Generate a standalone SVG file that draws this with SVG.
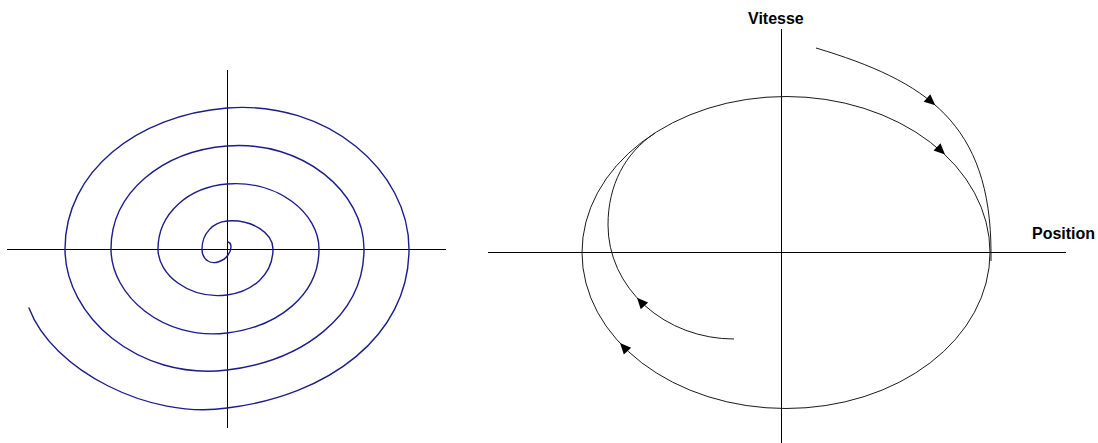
<svg xmlns="http://www.w3.org/2000/svg" xmlns:xlink="http://www.w3.org/1999/xlink" width="1098" height="443" viewBox="0 0 1098 443">
  <style>
    .axis { stroke: #000; stroke-width: 1; fill: none; }
    .spiral { stroke: #1c1c8c; stroke-width: 1.4; fill: none; stroke-linejoin: round; stroke-linecap: round; }
    .traj { stroke: #1a1a1a; stroke-width: 1; fill: none; }
    .label { font-family: "Liberation Sans", Arial, sans-serif; font-weight: bold; font-size: 16px; fill: #000; }
    .head { fill: #000; stroke: none; }
  </style>
  <defs>
    <path id="ah" d="M0,0 L-11,-5 L-11,5 Z"/>
  </defs>
  <rect width="1098" height="443" fill="#fff"/>

  <g id="spiral-diagram">
    <line class="axis" x1="7" y1="249.5" x2="446" y2="249.5"/>
    <line class="axis" x1="227.5" y1="70" x2="227.5" y2="428"/>
    <path class="spiral" d="M 228 242 C 232 243, 232 250, 228 255 C 224 261, 214 265, 208 261 C 203 258, 202 253, 202 249
      C 202 233.5, 213.2 222.1, 227 221
      C 252.4 219, 273 233.5, 273 249
      C 273 274.4, 252.4 292, 227 295
      C 188.9 299.6, 158 274.4, 158 249
      C 158 213.1, 188.9 187, 227 184
      C 277.8 179.9, 319 213.1, 319 249
      C 319 295.4, 277.8 326.9, 227 333
      C 162.9 340.7, 111 295.4, 111 249
      C 111 192.1, 162.9 151.1, 227 146
      C 302.7 139.9, 364 192.1, 364 249
      C 364 315.8, 302.7 360.9, 227 370
      C 137.5 380.7, 65 315.8, 65 249
      C 65 171.1, 137.5 115.2, 227 108
      C 327.5 100, 409 171.1, 409 249
      C 409 336.8, 327.5 395.9, 227 408
      C 150 420, 52 370, 29 308"/>
  </g>

  <g id="phase-diagram">
    <g id="axes">
      <line class="axis" x1="488" y1="252.5" x2="1066" y2="252.5"/>
      <line class="axis" x1="781.5" y1="29" x2="781.5" y2="443"/>
      <text class="label" x="748" y="24">Vitesse</text>
      <text class="label" x="1032" y="239">Position</text>
    </g>
    <g id="limit-cycle">
      <ellipse class="traj" cx="786" cy="252.5" rx="204" ry="156"/>
    </g>
    <g id="outer-trajectory">
      <path class="traj" d="M 816 48 C 926 81, 991 123, 991 253 L 991 261"/>
    </g>
    <g id="inner-trajectory">
      <path class="traj" d="M 734 339 A 126 114 0 0 1 608 225 C 608 185, 625 153, 655 133"/>
    </g>
    <g id="arrowheads">
      <use class="head" xlink:href="#ah" href="#ah" transform="translate(935.3,105.2) rotate(41)"/>
      <use class="head" xlink:href="#ah" href="#ah" transform="translate(945,154.5) rotate(43.5)"/>
      <use class="head" xlink:href="#ah" href="#ah" transform="translate(637,297.7) rotate(-132.5)"/>
      <use class="head" xlink:href="#ah" href="#ah" transform="translate(620,343) rotate(-133)"/>
    </g>
  </g>
</svg>
